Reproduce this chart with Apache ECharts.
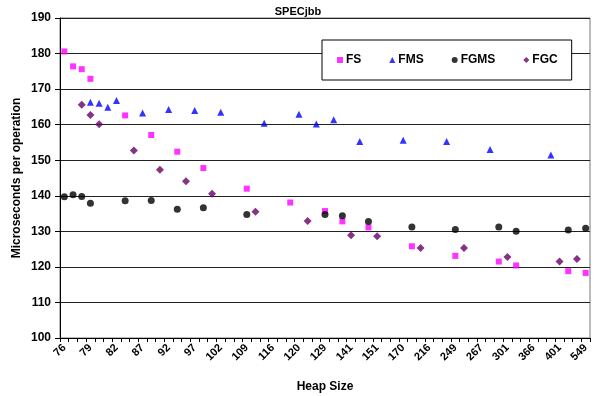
<!DOCTYPE html>
<html>
<head>
<meta charset="utf-8">
<script src="https://cdn.jsdelivr.net/npm/echarts@6/dist/echarts.min.js"></script>
<style>
  html, body { margin: 0; padding: 0; background: #fff; }
  #chart { width: 596px; height: 396px; }
</style>
</head>
<body>
<div id="chart"></div>
<script>
// Heap sizes on the x axis (only every third one is labelled)
var heapSizes = [
    '76', '77', '78', '79', '80', '81', '82', '84', '85', '87',
    '89', '90', '92', '94', '95', '97', '99', '100', '102', '104',
    '106', '109', '111', '113', '116', '117', '118', '120', '123', '126',
    '129', '133', '137', '141', '144', '147', '151', '157', '163', '170',
    '185', '200', '216', '227', '238', '249', '255', '261', '267', '278',
    '290', '301', '323', '344', '366', '378', '389', '401', '450', '500',
    '549'
];

// Series: heap size label + microseconds per operation
var fsHeap = ['76', '77', '78', '79', '84', '89', '94', '99', '109', '118', '129', '137', '147', '185', '249', '290', '323', '450', '549'];
var fsValues = [180.6, 176.4, 175.6, 172.9, 162.6, 157.1, 152.4, 147.8, 142.0, 138.1, 135.7, 132.8, 131.1, 125.8, 123.1, 121.5, 120.4, 118.8, 118.3];

var fmsHeap = ['79', '80', '81', '82', '87', '92', '97', '102', '113', '120', '126', '133', '144', '170', '238', '278', '389'];
var fmsValues = [166.3, 166.0, 164.9, 166.8, 163.3, 164.3, 164.0, 163.5, 160.4, 162.9, 160.2, 161.4, 155.3, 155.6, 155.3, 153.0, 151.5];

var fgmsHeap = ['76', '77', '78', '79', '84', '89', '94', '99', '109', '129', '137', '147', '185', '249', '290', '323', '450', '549'];
var fgmsValues = [139.7, 140.3, 139.8, 137.9, 138.6, 138.7, 136.2, 136.6, 134.7, 134.7, 134.4, 132.8, 131.2, 130.5, 131.2, 130.0, 130.4, 130.9];

var fgcHeap = ['78', '79', '80', '85', '90', '95', '100', '111', '123', '141', '151', '200', '255', '301', '401', '500'];
var fgcValues = [165.6, 162.7, 160.1, 152.7, 147.3, 144.1, 140.6, 135.5, 132.9, 128.9, 128.6, 125.3, 125.3, 122.8, 121.5, 122.2];

function pairs(heap, values) {
    var out = [];
    for (var i = 0; i < heap.length; i++) {
        out.push([heap[i], values[i]]);
    }
    return out;
}

var fontFamily = 'Arial, "Liberation Sans", sans-serif';
var chart = echarts.init(document.getElementById('chart'));

chart.setOption({
    animation: false,
    textStyle: { fontFamily: fontFamily },

    title: {
        text: 'SPECjbb',
        left: 'center',
        top: 1,
        textStyle: { fontSize: 11, fontWeight: 'bold', color: '#000', fontFamily: fontFamily }
    },

    legend: {
        left: 322,
        top: 40,
        padding: [14, 14, 14, 15],
        itemGap: 28,
        itemWidth: 6,
        itemHeight: 6,
        backgroundColor: '#fff',
        borderColor: '#000',
        borderWidth: 1,
        borderRadius: 0,
        textStyle: { fontSize: 12, fontWeight: 'bold', color: '#000', fontFamily: fontFamily, padding: [0, 0, 0, -2] },
        data: [
            { name: 'FS', icon: 'rect' },
            { name: 'FMS', icon: 'triangle' },
            { name: 'FGMS', icon: 'circle' },
            { name: 'FGC', icon: 'diamond' }
        ]
    },

    grid: {
        left: 60,
        right: 6,
        top: 18,
        bottom: 58,
        containLabel: false,
        outerBoundsMode: 'none',
        show: true,
        borderColor: '#777',
        borderWidth: 1
    },

    xAxis: {
        type: 'category',
        data: heapSizes,
        boundaryGap: true,
        name: 'Heap Size',
        nameLocation: 'middle',
        nameGap: 43,
        nameMoveOverlap: false,
        nameTextStyle: { fontSize: 12, fontWeight: 'bold', color: '#000' },
        axisLine: { lineStyle: { color: '#000', width: 1 } },
        axisTick: { show: true, interval: 0, length: 4, lineStyle: { color: '#000' } },
        axisLabel: {
            interval: 2,
            rotate: 45,
            fontSize: 11,
            fontWeight: 'bold',
            color: '#000',
            margin: 8
        },
        splitLine: { show: false }
    },

    yAxis: {
        type: 'value',
        min: 100,
        max: 190,
        interval: 10,
        name: 'Microseconds per operation',
        nameLocation: 'middle',
        nameGap: 37,
        nameMoveOverlap: false,
        nameTextStyle: { fontSize: 12, fontWeight: 'bold', color: '#000' },
        axisLine: { show: true, lineStyle: { color: '#000', width: 1 } },
        axisTick: { show: true, inside: false, length: 5, lineStyle: { color: '#000' } },
        axisLabel: { fontSize: 12, fontWeight: 'bold', color: '#000', margin: 9 },
        splitLine: { show: true, lineStyle: { color: '#222', width: 1 } }
    },

    series: [
        {
            name: 'FS',
            type: 'scatter',
            symbol: 'rect',
            symbolSize: 6,
            itemStyle: { color: '#ff00ff' },
            data: pairs(fsHeap, fsValues)
        },
        {
            name: 'FMS',
            type: 'scatter',
            symbol: 'triangle',
            symbolSize: 7,
            itemStyle: { color: '#0000ff' },
            data: pairs(fmsHeap, fmsValues)
        },
        {
            name: 'FGMS',
            type: 'scatter',
            symbol: 'circle',
            symbolSize: 7,
            itemStyle: { color: '#000' },
            data: pairs(fgmsHeap, fgmsValues)
        },
        {
            name: 'FGC',
            type: 'scatter',
            symbol: 'diamond',
            symbolSize: 8,
            itemStyle: { color: '#660066' },
            data: pairs(fgcHeap, fgcValues)
        }
    ]
});
</script>
</body>
</html>
